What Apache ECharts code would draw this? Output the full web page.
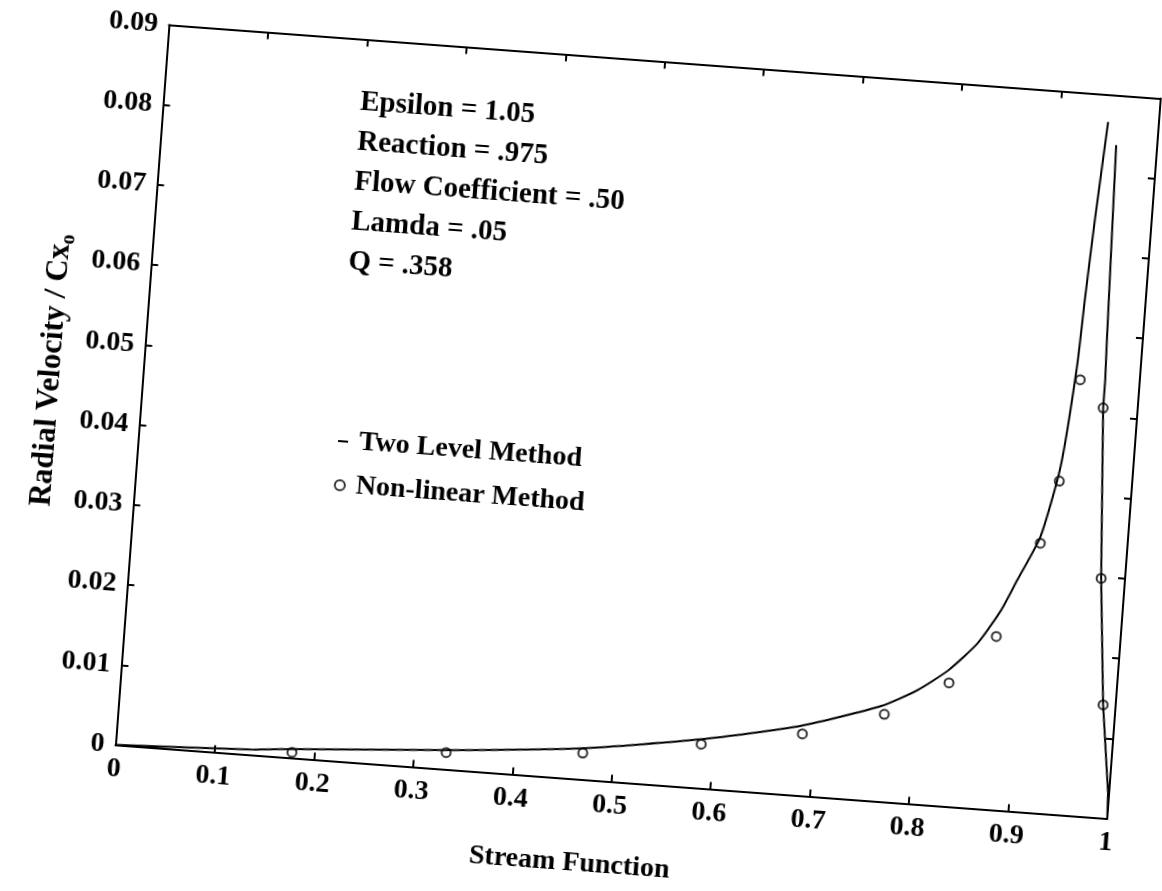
<!DOCTYPE html>
<html>
<head>
<meta charset="utf-8">
<script src="https://cdn.jsdelivr.net/npm/echarts@6/dist/echarts.min.js"></script>
<style>
html,body{margin:0;padding:0;background:#fff;overflow:hidden;width:1162px;height:891px;}
#wrap{position:absolute;left:0;top:0;width:1162px;height:891px;transform-origin:111px 744.3px;transform:rotate(4.25deg);}
#chart{width:1162px;height:891px;}
</style>
</head>
<body>
<div id="wrap"><div id="chart"></div></div>
<script>
// ---- data ----
const twoLevelRiseX = [0, 0.139, 0.176, 0.332, 0.469, 0.587, 0.686, 0.765, 0.800, 0.830, 0.857, 0.878, 0.892, 0.912, 0.927, 0.936, 0.939, 0.943, 0.949];
const twoLevelRiseY = [0, 0.0007, 0.0011, 0.0024, 0.0039, 0.0061, 0.0087, 0.0119, 0.0142, 0.0170, 0.0206, 0.0249, 0.0288, 0.0344, 0.0433, 0.0559, 0.0646, 0.0743, 0.0866];
const twoLevelFallX = [0.9588, 0.9640, 0.9653, 0.9653, 0.9760, 0.9874, 0.9989, 1.0];
const twoLevelFallY = [0.0838, 0.0595, 0.0545, 0.0510, 0.0298, 0.0141, 0.0032, 0.0];
const nonLinearX = [0.1775, 0.3322, 0.4692, 0.5873, 0.688, 0.7687, 0.8312, 0.8752, 0.9124, 0.9268, 0.9402, 0.9653, 0.976, 0.9874];
const nonLinearY = [0.0007, 0.0021, 0.0033, 0.0055, 0.0077, 0.0109, 0.0154, 0.0216, 0.0336, 0.0415, 0.0543, 0.0510, 0.0298, 0.0141];
const seriesNames = ['Two Level Method', 'Non-linear Method'];
const annotationLines = ['Epsilon = 1.05', 'Reaction = .975', 'Flow Coefficient = .50', 'Lamda = .05', 'Q = .358'];
const xTitle = 'Stream Function';
const yTitle = 'Radial Velocity / Cx{s|o}';
const xRange = [0, 1, 0.1];
const yRange = [0, 0.09, 0.01];

const zip = (xs, ys) => xs.map((x, i) => [x, ys[i]]);
const FONT = '"Liberation Serif", "Times New Roman", serif';
const txt = {fontFamily: FONT, fontSize: 28, fontWeight: 'bold', color: '#000'};
const lineC = {color: '#000', width: 2};

function fmtX(v){ if (Math.abs(v) < 1e-9) return '0'; if (Math.abs(v-1) < 1e-9) return '1'; return v.toFixed(1); }
function fmtY(v){ if (Math.abs(v) < 1e-9) return '0'; return v.toFixed(2); }

const baseX = {type: 'value', min: xRange[0], max: xRange[1], interval: xRange[2], gridIndex: 0,
  axisLine: {show: true, onZero: false, lineStyle: {color: '#000', width: 2}},
  axisTick: {show: true, inside: true, length: 7, lineStyle: {color: '#000', width: 2}},
  splitLine: {show: false}};
const baseY = {type: 'value', min: yRange[0], max: yRange[1], interval: yRange[2], gridIndex: 0,
  axisLine: {show: true, onZero: false, lineStyle: {color: '#000', width: 2}},
  axisTick: {show: true, inside: true, length: 7, lineStyle: {color: '#000', width: 2}},
  splitLine: {show: false}};

const chart = echarts.init(document.getElementById('chart'));
chart.setOption({
  animation: false,
  backgroundColor: 'transparent',
  grid: {left: 111, top: 22.5, width: 999, height: 722, containLabel: false},
  xAxis: [
    Object.assign({}, baseX, {position: 'bottom',
      axisLabel: Object.assign({}, txt, {margin: 10, formatter: fmtX}),
      name: xTitle, nameLocation: 'middle', nameGap: 70,
      nameTextStyle: Object.assign({}, txt, {padding: [0, 72, 0, 0]})}),
    Object.assign({}, baseX, {position: 'top', axisLabel: {show: false}})
  ],
  yAxis: [
    Object.assign({}, baseY, {position: 'left',
      axisLabel: Object.assign({}, txt, {margin: 11, formatter: fmtY}),
      name: yTitle, nameLocation: 'middle', nameGap: 74, nameRotate: 90,
      nameTextStyle: Object.assign({}, txt, {fontSize: 31, padding: [0, 0, 0, 16],
        rich: {s: {fontFamily: FONT, fontSize: 20, fontWeight: 'bold', color: '#000', padding: [16, 0, 0, 0]}}})}),
    Object.assign({}, baseY, {position: 'right', axisLabel: {show: false}})
  ],
  legend: {
    orient: 'vertical', left: 309, top: 406, itemWidth: 10, itemHeight: 10, itemGap: 16,
    selectedMode: false, textStyle: Object.assign({}, txt, {padding: [0, 0, 0, 6]}),
    data: [
      {name: seriesNames[0], icon: 'path://M0,0H10V2H0Z', itemStyle: {color: '#000'}},
      {name: seriesNames[1], icon: 'circle'}
    ]
  },
  graphic: annotationLines.map((t, i) => ({
    type: 'text', x: 312, y: 86 + 40 * i,
    style: {text: t, fill: '#000', fontFamily: FONT, fontSize: 29, fontWeight: 'bold', verticalAlign: 'middle'}
  })),
  series: [
    {name: seriesNames[0], type: 'line', xAxisIndex: 0, yAxisIndex: 0, data: zip(twoLevelRiseX, twoLevelRiseY),
      symbol: 'none', showSymbol: false, smooth: 0.2, lineStyle: lineC, itemStyle: {color: '#000'}},
    {name: seriesNames[0], type: 'line', xAxisIndex: 0, yAxisIndex: 0, data: zip(twoLevelFallX, twoLevelFallY),
      symbol: 'none', showSymbol: false, smooth: false, lineStyle: lineC, itemStyle: {color: '#000'}},
    {name: seriesNames[1], type: 'scatter', xAxisIndex: 0, yAxisIndex: 0, data: zip(nonLinearX, nonLinearY),
      symbol: 'circle', symbolSize: 9, itemStyle: {color: '#fff', borderColor: '#000', borderWidth: 2}}
  ]
});
</script>
</body>
</html>
